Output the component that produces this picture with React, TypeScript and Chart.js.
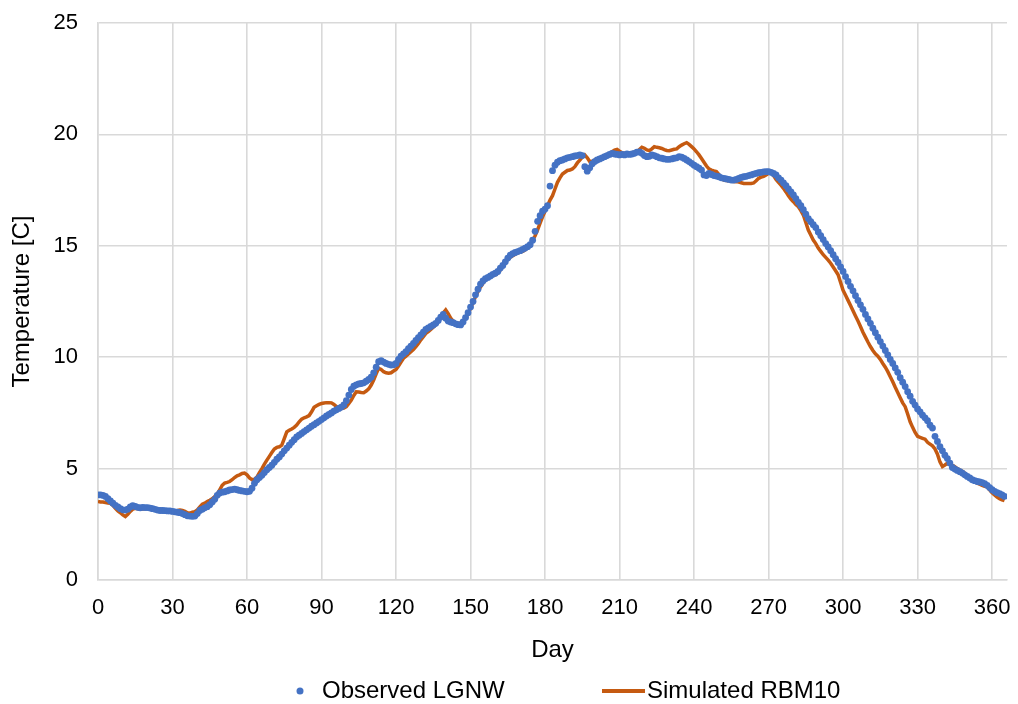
import { useEffect, useRef } from 'react';
import { Chart, registerables } from 'chart.js';

Chart.register(...registerables);

// ---- Data (day index = position in array, starting at day 0) ----
const FIRST_DAY = 0;

const observedLGNW: number[] = [
  // 0-9
  3.82, 3.82, 3.80, 3.75, 3.65, 3.55, 3.45, 3.35, 3.28, 3.20,
  // 10-19
  3.15, 3.14, 3.18, 3.28, 3.34, 3.30, 3.26, 3.24, 3.26, 3.25,
  // 20-29
  3.25, 3.23, 3.20, 3.17, 3.14, 3.12, 3.12, 3.11, 3.10, 3.10,
  // 30-39
  3.08, 3.06, 3.04, 3.02, 2.98, 2.93, 2.88, 2.87, 2.86, 2.87,
  // 40-49
  2.98, 3.12, 3.18, 3.24, 3.29, 3.38, 3.50, 3.62, 3.80, 3.90,
  // 50-59
  3.94, 3.96, 4.00, 4.04, 4.06, 4.08, 4.05, 4.02, 4.00, 3.98,
  // 60-69
  3.96, 3.98, 4.12, 4.34, 4.50, 4.60, 4.70, 4.82, 4.95, 5.05,
  // 70-79
  5.15, 5.28, 5.42, 5.52, 5.65, 5.80, 5.92, 6.05, 6.18, 6.30,
  // 80-89
  6.42, 6.50, 6.58, 6.66, 6.74, 6.82, 6.90, 6.97, 7.05, 7.12,
  // 90-99
  7.20, 7.28, 7.36, 7.43, 7.50, 7.58, 7.64, 7.70, 7.76, 7.86,
  // 100-109
  8.05, 8.30, 8.55, 8.70, 8.76, 8.80, 8.82, 8.85, 8.92, 9.00,
  // 110-119
  9.10, 9.30, 9.55, 9.80, 9.85, 9.78, 9.72, 9.68, 9.65, 9.66,
  // 120-129
  9.72, 9.90, 10.05, 10.15, 10.25, 10.38, 10.50, 10.62, 10.75, 10.88,
  // 130-139
  11.00, 11.12, 11.25, 11.32, 11.38, 11.45, 11.52, 11.65, 11.80, 11.92,
  // 140-149
  11.75, 11.62, 11.58, 11.55, 11.50, 11.46, 11.45, 11.58, 11.78, 12.00,
  // 150-159
  12.25, 12.50, 12.80, 13.05, 13.28, 13.42, 13.52, 13.58, 13.65, 13.72,
  // 160-169
  13.77, 13.85, 14.00, 14.12, 14.28, 14.45, 14.58, 14.65, 14.70, 14.74,
  // 170-179
  14.78, 14.84, 14.90, 14.96, 15.05, 15.25, 15.65, 16.10, 16.35, 16.55,
  // 180-189
  16.65, 16.80, 17.68, 18.37, 18.62, 18.75, 18.82, 18.85, 18.90, 18.95,
  // 190-199
  18.97, 19.00, 19.03, 19.05, 19.08, 19.05, 18.55, 18.35, 18.50, 18.68,
  // 200-209
  18.78, 18.85, 18.90, 18.95, 19.00, 19.05, 19.10, 19.15, 19.12, 19.10,
  // 210-219
  19.08, 19.10, 19.08, 19.12, 19.10, 19.12, 19.15, 19.20, 19.22, 19.15,
  // 220-229
  19.05, 19.00, 19.02, 19.08, 19.05, 19.00, 18.95, 18.93, 18.90, 18.88,
  // 230-239
  18.88, 18.90, 18.93, 18.95, 19.00, 18.98, 18.92, 18.85, 18.78, 18.70,
  // 240-249
  18.62, 18.55, 18.48, 18.40, 18.18, 18.15, 18.25, 18.20, 18.15, 18.13,
  // 250-259
  18.10, 18.05, 18.03, 18.00, 17.98, 17.95, 17.95, 17.98, 18.02, 18.07,
  // 260-269
  18.10, 18.12, 18.15, 18.18, 18.22, 18.25, 18.28, 18.30, 18.32, 18.33,
  // 270-279
  18.33, 18.30, 18.25, 18.18, 18.05, 17.95, 17.82, 17.70, 17.55, 17.42,
  // 280-289
  17.28, 17.12, 16.95, 16.80, 16.62, 16.42, 16.22, 16.08, 15.95, 15.82,
  // 290-299
  15.62, 15.45, 15.28, 15.10, 14.95, 14.78, 14.60, 14.42, 14.25, 14.05,
  // 300-309
  13.85, 13.62, 13.40, 13.18, 12.98, 12.76, 12.55, 12.35, 12.15, 11.92,
  // 310-319
  11.72, 11.52, 11.30, 11.10, 10.90, 10.70, 10.50, 10.30, 10.10, 9.90,
  // 320-329
  9.72, 9.52, 9.32, 9.08, 8.88, 8.68, 8.45, 8.25, 8.02, 7.85,
  // 330-339
  7.68, 7.55, 7.40, 7.28, 7.15, 6.95, 6.82, 6.45, 6.22, 5.98,
  // 340-349
  5.80, 5.60, 5.45, 5.25, 5.05, 4.98, 4.92, 4.86, 4.80, 4.72,
  // 350-359
  4.65, 4.58, 4.50, 4.46, 4.42, 4.40, 4.37, 4.32, 4.25, 4.15,
  // 360-365
  4.05, 3.98, 3.92, 3.88, 3.82, 3.75,
];

const simulatedRBM10: number[] = [
  // 0-9
  3.52, 3.50, 3.50, 3.48, 3.46, 3.44, 3.35, 3.22, 3.10, 3.02,
  // 10-19
  2.92, 2.85, 2.95, 3.08, 3.18, 3.22, 3.20, 3.18, 3.19, 3.21,
  // 20-29
  3.22, 3.23, 3.22, 3.20, 3.18, 3.12, 3.10, 3.09, 3.10, 3.10,
  // 30-39
  3.10, 3.11, 3.12, 3.14, 3.12, 3.08, 3.02, 3.00, 3.04, 3.07,
  // 40-49
  3.15, 3.28, 3.40, 3.45, 3.52, 3.58, 3.65, 3.75, 3.85, 4.05,
  // 50-59
  4.25, 4.35, 4.38, 4.42, 4.50, 4.60, 4.68, 4.72, 4.78, 4.80,
  // 60-69
  4.72, 4.58, 4.50, 4.52, 4.62, 4.82, 5.00, 5.20, 5.38, 5.55,
  // 70-79
  5.72, 5.88, 5.95, 5.98, 6.05, 6.35, 6.65, 6.72, 6.78, 6.85,
  // 80-89
  6.95, 7.10, 7.22, 7.28, 7.32, 7.38, 7.55, 7.75, 7.82, 7.88,
  // 90-99
  7.92, 7.94, 7.96, 7.96, 7.95, 7.88, 7.78, 7.72, 7.70, 7.72,
  // 100-109
  7.78, 7.92, 8.08, 8.28, 8.45, 8.44, 8.42, 8.41, 8.48, 8.58,
  // 110-119
  8.75, 8.98, 9.25, 9.50, 9.45, 9.35, 9.30, 9.28, 9.30, 9.38,
  // 120-129
  9.45, 9.60, 9.78, 9.95, 10.05, 10.15, 10.25, 10.35, 10.47, 10.62,
  // 130-139
  10.78, 10.92, 11.07, 11.15, 11.25, 11.35, 11.45, 11.60, 11.78, 11.98,
  // 140-149
  12.12, 11.95, 11.75, 11.62, 11.55, 11.52, 11.53, 11.60, 11.75, 11.95,
  // 150-159
  12.20, 12.45, 12.72, 12.95, 13.15, 13.32, 13.47, 13.55, 13.62, 13.66,
  // 160-169
  13.69, 13.78, 13.92, 14.08, 14.25, 14.40, 14.48, 14.55, 14.62, 14.68,
  // 170-179
  14.72, 14.75, 14.82, 14.92, 15.05, 15.25, 15.45, 15.72, 16.02, 16.30,
  // 180-189
  16.55, 16.80, 17.05, 17.25, 17.55, 17.85, 18.05, 18.22, 18.30, 18.38,
  // 190-199
  18.40, 18.45, 18.55, 18.72, 18.85, 18.98, 19.08, 18.95, 18.78, 18.80,
  // 200-209
  18.85, 18.90, 18.95, 19.00, 19.05, 19.10, 19.15, 19.22, 19.30, 19.33,
  // 210-219
  19.25, 19.18, 19.15, 19.15, 19.15, 19.18, 19.20, 19.22, 19.32, 19.42,
  // 220-229
  19.38, 19.30, 19.27, 19.35, 19.45, 19.42, 19.40, 19.37, 19.32, 19.28,
  // 230-239
  19.27, 19.30, 19.33, 19.35, 19.45, 19.52, 19.58, 19.63, 19.55, 19.45,
  // 240-249
  19.35, 19.22, 19.08, 18.92, 18.75, 18.58, 18.45, 18.40, 18.36, 18.33,
  // 250-259
  18.20, 18.02, 17.95, 17.93, 17.92, 17.90, 17.89, 17.88, 17.86, 17.83,
  // 260-269
  17.80, 17.80, 17.80, 17.80, 17.82, 17.92, 18.03, 18.08, 18.12, 18.18,
  // 270-279
  18.25, 18.28, 18.15, 17.98, 17.85, 17.72, 17.58, 17.42, 17.25, 17.10,
  // 280-289
  16.98, 16.85, 16.75, 16.58, 16.38, 16.05, 15.71, 15.48, 15.26, 15.10,
  // 290-299
  14.90, 14.75, 14.60, 14.48, 14.36, 14.22, 14.05, 13.88, 13.70, 13.35,
  // 300-309
  13.00, 12.78, 12.55, 12.32, 12.08, 11.85, 11.62, 11.38, 11.12, 10.90,
  // 310-319
  10.68, 10.48, 10.30, 10.15, 10.05, 9.90, 9.72, 9.55, 9.35, 9.12,
  // 320-329
  8.90, 8.65, 8.42, 8.18, 7.95, 7.78, 7.45, 7.10, 6.85, 6.62,
  // 330-339
  6.45, 6.40, 6.36, 6.32, 6.18, 6.10, 6.02, 5.88, 5.65, 5.30,
  // 340-349
  5.09, 5.16, 5.24, 5.20, 5.15, 5.08, 5.00, 4.94, 4.88, 4.80,
  // 350-359
  4.70, 4.62, 4.52, 4.42, 4.35, 4.30, 4.25, 4.20, 4.18, 4.05,
  // 360-365
  3.92, 3.82, 3.72, 3.65, 3.60, 3.56,
];

const seriesLabels = ['Observed LGNW', 'Simulated RBM10'];
const xTitle = 'Day';
const yTitle = 'Temperature [C]';
const xMin = 0;
const xMax = 366;
const xStep = 30;
const xLastLabel = 360;
const yMin = 0;
const yMax = 25;
const yStep = 5;

// ---- Styles ----
const BLUE = '#4472C4';
const ORANGE = '#C55A11';
const GRID = '#D9D9D9';
const TEXT = '#000000';
const FONT_FAMILY = '"Liberation Sans", Arial, sans-serif';
const TICK_SIZE = 22;
const TITLE_SIZE = 24;
const LEGEND_SIZE = 24;

const W = 1018;
const H = 704;

const toPoints = (vals: number[]) => vals.map((v, i) => ({ x: FIRST_DAY + i, y: v }));

const legendPlugin = {
  id: 'customLegend',
  afterDraw(chart: any) {
    const ctx = chart.ctx as CanvasRenderingContext2D;
    const y = 691;
    ctx.save();
    ctx.font = `${LEGEND_SIZE}px ${FONT_FAMILY}`;
    ctx.textBaseline = 'middle';
    ctx.textAlign = 'left';
    // item 1: dot marker
    ctx.beginPath();
    ctx.arc(300, y, 3.5, 0, Math.PI * 2);
    ctx.fillStyle = BLUE;
    ctx.fill();
    ctx.fillStyle = TEXT;
    ctx.fillText(seriesLabels[0], 322, y);
    // item 2: line marker
    ctx.beginPath();
    ctx.moveTo(602, y);
    ctx.lineTo(645, y);
    ctx.strokeStyle = ORANGE;
    ctx.lineWidth = 4;
    ctx.stroke();
    ctx.fillStyle = TEXT;
    ctx.fillText(seriesLabels[1], 647, y);
    ctx.restore();
  },
};

export default function App() {
  const canvasRef = useRef<HTMLCanvasElement | null>(null);

  useEffect(() => {
    const canvas = canvasRef.current;
    if (!canvas) return;
    const tickFont = { family: FONT_FAMILY, size: TICK_SIZE };
    const titleFont = { family: FONT_FAMILY, size: TITLE_SIZE };
    const chart = new Chart(canvas, {
      type: 'line',
      data: {
        datasets: [
          {
            label: seriesLabels[0],
            data: toPoints(observedLGNW),
            showLine: false,
            pointRadius: 3.4,
            pointBorderWidth: 0,
            pointBackgroundColor: BLUE,
            borderColor: BLUE,
            backgroundColor: BLUE,
          },
          {
            label: seriesLabels[1],
            data: toPoints(simulatedRBM10),
            borderColor: ORANGE,
            backgroundColor: ORANGE,
            borderWidth: 3.5,
            pointRadius: 0,
            tension: 0,
          },
        ],
      },
      options: {
        responsive: false,
        animation: false,
        events: [],
        layout: { padding: { top: 23, right: 11, bottom: 37, left: 0 } },
        plugins: {
          legend: { display: false },
          tooltip: { enabled: false },
        },
        scales: {
          x: {
            type: 'linear',
            min: xMin,
            max: xMax,
            ticks: {
              stepSize: xStep,
              font: tickFont,
              color: TEXT,
              padding: 15,
              maxRotation: 0,
              autoSkip: false,
            },
            afterBuildTicks: (scale: any) => {
              const t: { value: number }[] = [];
              for (let v = xMin; v <= xLastLabel; v += xStep) t.push({ value: v });
              scale.ticks = t;
            },
            afterFit: (scale: any) => {
              scale.height = 87;
              scale.paddingLeft = 0;
              scale.paddingRight = 0;
            },
            grid: { color: GRID, lineWidth: 1.6, drawTicks: false },
            border: { color: GRID, width: 1.6 },
            title: {
              display: true,
              text: xTitle,
              font: titleFont,
              color: TEXT,
              padding: { top: 0, bottom: 2 },
            },
          },
          y: {
            type: 'linear',
            min: yMin,
            max: yMax,
            ticks: { stepSize: yStep, font: tickFont, color: TEXT, padding: 20 },
            afterFit: (scale: any) => {
              scale.width = 98;
              scale.paddingTop = 0;
              scale.paddingBottom = 0;
            },
            grid: { color: GRID, lineWidth: 1.6, drawTicks: false },
            border: { color: GRID, width: 1.6 },
            title: {
              display: true,
              text: yTitle,
              font: titleFont,
              color: TEXT,
              padding: { top: 8, bottom: 0 },
            },
          },
        },
      },
      plugins: [legendPlugin],
    });
    return () => chart.destroy();
  }, []);

  return (
    <div style={{ position: 'fixed', left: 0, top: 0, width: W, height: H, background: '#ffffff' }}>
      <canvas ref={canvasRef} width={W} height={H} style={{ display: 'block', width: W, height: H }} />
    </div>
  );
}
